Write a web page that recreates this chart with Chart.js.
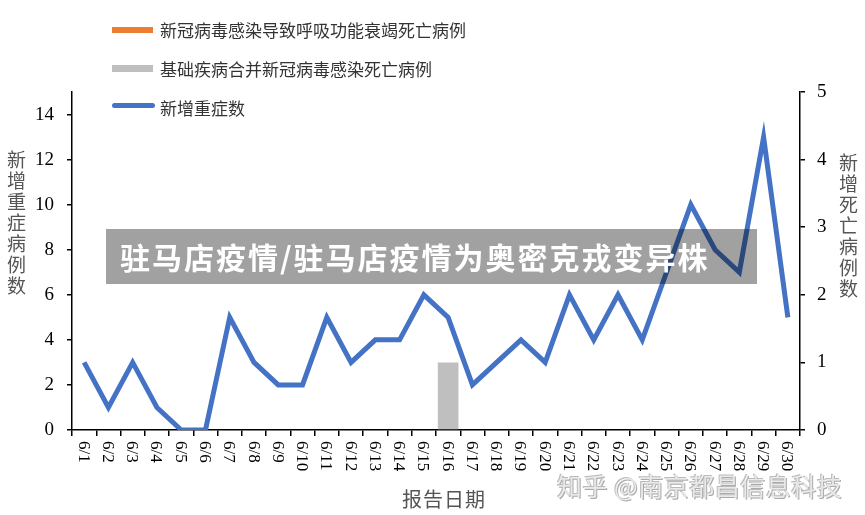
<!DOCTYPE html>
<html>
<head>
<meta charset="utf-8">
<script src="https://cdn.jsdelivr.net/npm/chart.js@4"></script>
<style>
  body { margin: 0; background: #fff; }
  #wrap { position: relative; width: 865px; height: 515px; overflow: hidden; font-family: "Noto Sans CJK SC", sans-serif; }
  #myChart { position: absolute; left: 0; top: 0; }
  .leg { position: absolute; left: 112px; height: 20px; }
  .leg i { position: absolute; left: 0; width: 41px; }
  .leg span { position: absolute; left: 48px; top: 0; font-size: 17px; line-height: 20px; color: #333; white-space: nowrap; }
  .ytitle { position: absolute; writing-mode: vertical-rl; font-size: 19px; line-height: 21px; color: #555; letter-spacing: 2px; }
  #xtitle { position: absolute; left: 402px; top: 484px; font-size: 20px; color: #555; letter-spacing: 1px; }
  #banner { position: absolute; left: 106px; top: 229px; width: 651px; height: 55px; background: rgba(0,0,0,0.37);
            color: #fff; font-weight: bold; font-size: 30px; line-height: 55px; padding-left: 14px; letter-spacing: 2px;
            box-sizing: border-box; white-space: nowrap; }
  #mark { position: absolute; left: 557px; top: 467px; font-size: 25px; color: rgba(240,240,240,0.85); white-space: nowrap;
          letter-spacing: 0.5px; text-shadow: -1px -1px 0 #bbb, 1px 1px 0 #aaa; }
</style>
</head>
<body>
<div id="wrap">
  <canvas id="myChart" width="865" height="515"></canvas>

  <div class="leg" style="top:20px"><i style="top:7px;height:6px;background:#ED7D31"></i><span>新冠病毒感染导致呼吸功能衰竭死亡病例</span></div>
  <div class="leg" style="top:59px"><i style="top:6px;height:7px;background:#BFBFBF"></i><span>基础疾病合并新冠病毒感染死亡病例</span></div>
  <div class="leg" style="top:98px"><i style="top:5px;height:5px;border-radius:3px;background:#4472C4;width:43px"></i><span>新增重症数</span></div>

  <div class="ytitle" style="left:6px;top:150px">新增重症病例数</div>
  <div class="ytitle" style="left:838px;top:153px">新增死亡病例数</div>
  <div id="xtitle">报告日期</div>

  <div id="banner">驻马店疫情/驻马店疫情为奥密克戎变异株</div>
  <div id="mark">知乎 @南京都昌信息科技</div>
</div>

<script>
'use strict'
// data
let dates = ['6/1', '6/2', '6/3', '6/4', '6/5', '6/6', '6/7', '6/8', '6/9', '6/10',
  '6/11', '6/12', '6/13', '6/14', '6/15', '6/16', '6/17', '6/18', '6/19', '6/20',
  '6/21', '6/22', '6/23', '6/24', '6/25', '6/26', '6/27', '6/28', '6/29', '6/30'];
let severeCases = [3, 1, 3, 1, 0, 0, 5, 3, 2, 2, 5, 3, 4, 4, 6, 5, 2, 3, 4, 3, 6, 4, 6, 4, 7, 10, 8, 7, 13, 5];
let respDeaths = [0, 0, 0, 0, 0, 0, 0, 0, 0, 0, 0, 0, 0, 0, 0, 0, 0, 0, 0, 0, 0, 0, 0, 0, 0, 0, 0, 0, 0, 0];
let comorbidDeaths = [0, 0, 0, 0, 0, 0, 0, 0, 0, 0, 0, 0, 0, 0, 0, 1, 0, 0, 0, 0, 0, 0, 0, 0, 0, 0, 0, 0, 0, 0];
let leftTicks = [0, 2, 4, 6, 8, 10, 12, 14];
let rightTicks = [0, 1, 2, 3, 4, 5];

let serif = '"Liberation Serif", "Times New Roman", serif';

// x labels read top-to-bottom, so draw them by hand
let xLabelPlugin = {
  id: 'xLabels',
  afterDraw(chart) {
    let ctx = chart.ctx;
    let xs = chart.scales.x;
    ctx.save();
    ctx.font = '17px ' + serif;
    ctx.fillStyle = '#000';
    ctx.textAlign = 'left';
    ctx.textBaseline = 'middle';
    for (let i = 0; i < dates.length; i++) {
      ctx.save();
      ctx.translate(xs.getPixelForValue(i) - 1, xs.top + 11);
      ctx.rotate(Math.PI / 2);
      ctx.fillText(dates[i], 0, 0);
      ctx.restore();
    }
    ctx.restore();
  }
};

let ctx = document.getElementById('myChart').getContext('2d');
let myChart = new Chart(ctx, {
  type: 'bar',
  data: {
    labels: dates,
    datasets: [{
      type: 'line',
      label: '新增重症数',
      data: severeCases,
      yAxisID: 'y',
      borderColor: '#4472C4',
      backgroundColor: '#4472C4',
      borderWidth: 5,
      pointRadius: 0,
      tension: 0,
      order: 0
    },
    {
      label: '新冠病毒感染导致呼吸功能衰竭死亡病例',
      data: respDeaths,
      yAxisID: 'y1',
      backgroundColor: '#ED7D31',
      grouped: false,
      barPercentage: 0.85,
      categoryPercentage: 1,
      order: 1
    },
    {
      label: '基础疾病合并新冠病毒感染死亡病例',
      data: comorbidDeaths,
      yAxisID: 'y1',
      backgroundColor: '#BFBFBF',
      grouped: false,
      barPercentage: 0.85,
      categoryPercentage: 1,
      order: 2
    }]
  },
  options: {
    responsive: false,
    animation: false,
    layout: { padding: { top: 92, left: 0, right: 0, bottom: 0 } },
    plugins: { legend: { display: false }, tooltip: { enabled: false } },
    scales: {
      x: {
        offset: true,
        grid: { offset: true, drawOnChartArea: false, drawTicks: true, tickLength: 6, color: '#000', lineWidth: 1.5 },
        border: { color: '#000', width: 1.5 },
        ticks: { display: false },
        afterFit(scale) { scale.height = 85; }
      },
      y: {
        position: 'left',
        min: 0,
        max: 15,
        afterBuildTicks(scale) { scale.ticks = leftTicks.map(v => ({ value: v })); },
        grid: { drawOnChartArea: false, drawTicks: true, tickLength: 5, color: '#000', lineWidth: 1.5 },
        border: { color: '#000', width: 1.5 },
        ticks: { color: '#000', padding: 13, font: { family: serif, size: 19 } },
        afterFit(scale) { scale.width = 72; }
      },
      y1: {
        position: 'right',
        min: 0,
        max: 5,
        afterBuildTicks(scale) { scale.ticks = rightTicks.map(v => ({ value: v })); },
        grid: { drawOnChartArea: false, drawTicks: true, tickLength: 5, color: '#000', lineWidth: 1.5 },
        border: { color: '#000', width: 1.5 },
        ticks: { color: '#000', padding: 12, font: { family: serif, size: 19 } },
        afterFit(scale) { scale.width = 65; }
      }
    }
  },
  plugins: [xLabelPlugin]
});
</script>
</body>
</html>
